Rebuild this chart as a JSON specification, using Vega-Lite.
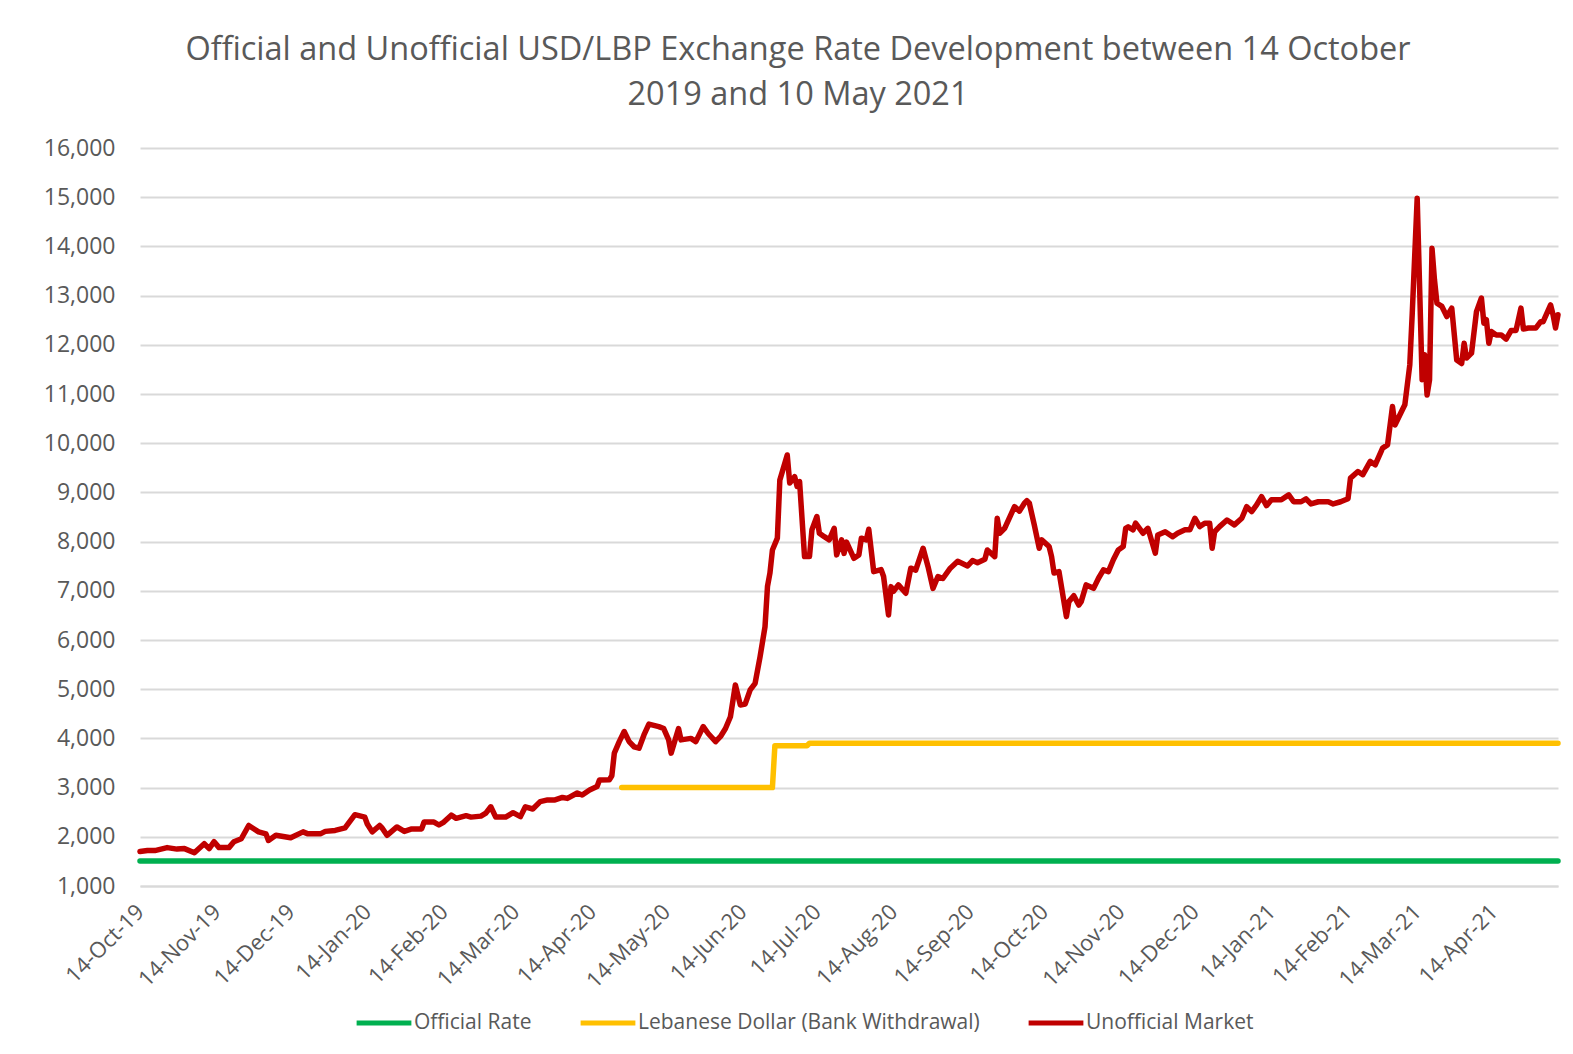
{
  "$schema": "https://vega.github.io/schema/vega-lite/v6.json",
  "width": 1418,
  "height": 738,
  "autosize": {"type": "none"},
  "padding": {"left": 140, "top": 148, "right": 15, "bottom": 168},
  "background": "white",
  "title": {
    "text": ["Official and Unofficial USD/LBP Exchange Rate Development between 14 October", "2019 and 10 May 2021"],
    "font": "Open Sans",
    "fontSize": 32.5,
    "fontWeight": "normal",
    "color": "#595959",
    "anchor": "middle",
    "dx": -51,
    "offset": 26,
    "lineHeight": 45
  },
  "config": {
    "view": {"stroke": null},
    "font": "Open Sans"
  },
  "data": {
    "values": [
      {"series": "Official Rate", "date": "2019-10-14", "value": 1507.5},
      {"series": "Official Rate", "date": "2021-05-10", "value": 1507.5},
      {"series": "Lebanese Dollar (Bank Withdrawal)", "date": "2020-04-26", "value": 3000},
      {"series": "Lebanese Dollar (Bank Withdrawal)", "date": "2020-06-26", "value": 3000},
      {"series": "Lebanese Dollar (Bank Withdrawal)", "date": "2020-06-27", "value": 3850},
      {"series": "Lebanese Dollar (Bank Withdrawal)", "date": "2020-07-10", "value": 3850},
      {"series": "Lebanese Dollar (Bank Withdrawal)", "date": "2020-07-11", "value": 3900},
      {"series": "Lebanese Dollar (Bank Withdrawal)", "date": "2021-05-10", "value": 3900},
      {"series": "Unofficial Market", "date": "2019-10-14", "value": 1700},
      {"series": "Unofficial Market", "date": "2019-10-17", "value": 1720},
      {"series": "Unofficial Market", "date": "2019-10-20", "value": 1720},
      {"series": "Unofficial Market", "date": "2019-10-25", "value": 1780},
      {"series": "Unofficial Market", "date": "2019-10-29", "value": 1750},
      {"series": "Unofficial Market", "date": "2019-11-01", "value": 1760},
      {"series": "Unofficial Market", "date": "2019-11-05", "value": 1675},
      {"series": "Unofficial Market", "date": "2019-11-09", "value": 1860},
      {"series": "Unofficial Market", "date": "2019-11-11", "value": 1760},
      {"series": "Unofficial Market", "date": "2019-11-13", "value": 1900},
      {"series": "Unofficial Market", "date": "2019-11-15", "value": 1780},
      {"series": "Unofficial Market", "date": "2019-11-19", "value": 1780},
      {"series": "Unofficial Market", "date": "2019-11-21", "value": 1900},
      {"series": "Unofficial Market", "date": "2019-11-24", "value": 1960},
      {"series": "Unofficial Market", "date": "2019-11-27", "value": 2230},
      {"series": "Unofficial Market", "date": "2019-12-01", "value": 2100},
      {"series": "Unofficial Market", "date": "2019-12-04", "value": 2060},
      {"series": "Unofficial Market", "date": "2019-12-05", "value": 1925},
      {"series": "Unofficial Market", "date": "2019-12-08", "value": 2030},
      {"series": "Unofficial Market", "date": "2019-12-14", "value": 1980},
      {"series": "Unofficial Market", "date": "2019-12-19", "value": 2100},
      {"series": "Unofficial Market", "date": "2019-12-21", "value": 2060},
      {"series": "Unofficial Market", "date": "2019-12-26", "value": 2060},
      {"series": "Unofficial Market", "date": "2019-12-28", "value": 2110},
      {"series": "Unofficial Market", "date": "2020-01-01", "value": 2130},
      {"series": "Unofficial Market", "date": "2020-01-05", "value": 2180},
      {"series": "Unofficial Market", "date": "2020-01-09", "value": 2450},
      {"series": "Unofficial Market", "date": "2020-01-13", "value": 2400},
      {"series": "Unofficial Market", "date": "2020-01-14", "value": 2260},
      {"series": "Unofficial Market", "date": "2020-01-16", "value": 2100},
      {"series": "Unofficial Market", "date": "2020-01-19", "value": 2230},
      {"series": "Unofficial Market", "date": "2020-01-20", "value": 2180},
      {"series": "Unofficial Market", "date": "2020-01-22", "value": 2030},
      {"series": "Unofficial Market", "date": "2020-01-26", "value": 2200},
      {"series": "Unofficial Market", "date": "2020-01-29", "value": 2110},
      {"series": "Unofficial Market", "date": "2020-02-01", "value": 2160},
      {"series": "Unofficial Market", "date": "2020-02-05", "value": 2160},
      {"series": "Unofficial Market", "date": "2020-02-06", "value": 2300},
      {"series": "Unofficial Market", "date": "2020-02-10", "value": 2300},
      {"series": "Unofficial Market", "date": "2020-02-12", "value": 2240},
      {"series": "Unofficial Market", "date": "2020-02-14", "value": 2300},
      {"series": "Unofficial Market", "date": "2020-02-17", "value": 2440},
      {"series": "Unofficial Market", "date": "2020-02-19", "value": 2375},
      {"series": "Unofficial Market", "date": "2020-02-23", "value": 2430},
      {"series": "Unofficial Market", "date": "2020-02-25", "value": 2400},
      {"series": "Unofficial Market", "date": "2020-02-29", "value": 2420},
      {"series": "Unofficial Market", "date": "2020-03-02", "value": 2480},
      {"series": "Unofficial Market", "date": "2020-03-04", "value": 2610},
      {"series": "Unofficial Market", "date": "2020-03-06", "value": 2400},
      {"series": "Unofficial Market", "date": "2020-03-10", "value": 2400},
      {"series": "Unofficial Market", "date": "2020-03-13", "value": 2490},
      {"series": "Unofficial Market", "date": "2020-03-16", "value": 2410},
      {"series": "Unofficial Market", "date": "2020-03-18", "value": 2610},
      {"series": "Unofficial Market", "date": "2020-03-21", "value": 2565},
      {"series": "Unofficial Market", "date": "2020-03-24", "value": 2715},
      {"series": "Unofficial Market", "date": "2020-03-27", "value": 2750},
      {"series": "Unofficial Market", "date": "2020-03-30", "value": 2750},
      {"series": "Unofficial Market", "date": "2020-04-02", "value": 2800},
      {"series": "Unofficial Market", "date": "2020-04-04", "value": 2780},
      {"series": "Unofficial Market", "date": "2020-04-08", "value": 2890},
      {"series": "Unofficial Market", "date": "2020-04-10", "value": 2850},
      {"series": "Unofficial Market", "date": "2020-04-13", "value": 2950},
      {"series": "Unofficial Market", "date": "2020-04-16", "value": 3020},
      {"series": "Unofficial Market", "date": "2020-04-17", "value": 3155},
      {"series": "Unofficial Market", "date": "2020-04-21", "value": 3160},
      {"series": "Unofficial Market", "date": "2020-04-22", "value": 3240},
      {"series": "Unofficial Market", "date": "2020-04-23", "value": 3700},
      {"series": "Unofficial Market", "date": "2020-04-25", "value": 3935},
      {"series": "Unofficial Market", "date": "2020-04-27", "value": 4140},
      {"series": "Unofficial Market", "date": "2020-04-29", "value": 3935},
      {"series": "Unofficial Market", "date": "2020-05-01", "value": 3830},
      {"series": "Unofficial Market", "date": "2020-05-03", "value": 3800},
      {"series": "Unofficial Market", "date": "2020-05-05", "value": 4070},
      {"series": "Unofficial Market", "date": "2020-05-07", "value": 4290},
      {"series": "Unofficial Market", "date": "2020-05-11", "value": 4240},
      {"series": "Unofficial Market", "date": "2020-05-13", "value": 4200},
      {"series": "Unofficial Market", "date": "2020-05-15", "value": 3970},
      {"series": "Unofficial Market", "date": "2020-05-16", "value": 3700},
      {"series": "Unofficial Market", "date": "2020-05-19", "value": 4200},
      {"series": "Unofficial Market", "date": "2020-05-20", "value": 3970},
      {"series": "Unofficial Market", "date": "2020-05-24", "value": 4000},
      {"series": "Unofficial Market", "date": "2020-05-26", "value": 3935},
      {"series": "Unofficial Market", "date": "2020-05-29", "value": 4240},
      {"series": "Unofficial Market", "date": "2020-05-31", "value": 4100},
      {"series": "Unofficial Market", "date": "2020-06-03", "value": 3935},
      {"series": "Unofficial Market", "date": "2020-06-05", "value": 4040},
      {"series": "Unofficial Market", "date": "2020-06-07", "value": 4200},
      {"series": "Unofficial Market", "date": "2020-06-09", "value": 4440},
      {"series": "Unofficial Market", "date": "2020-06-11", "value": 5085},
      {"series": "Unofficial Market", "date": "2020-06-13", "value": 4680},
      {"series": "Unofficial Market", "date": "2020-06-15", "value": 4700},
      {"series": "Unofficial Market", "date": "2020-06-17", "value": 4985},
      {"series": "Unofficial Market", "date": "2020-06-19", "value": 5120},
      {"series": "Unofficial Market", "date": "2020-06-21", "value": 5660},
      {"series": "Unofficial Market", "date": "2020-06-23", "value": 6270},
      {"series": "Unofficial Market", "date": "2020-06-24", "value": 7085},
      {"series": "Unofficial Market", "date": "2020-06-25", "value": 7360},
      {"series": "Unofficial Market", "date": "2020-06-26", "value": 7830},
      {"series": "Unofficial Market", "date": "2020-06-28", "value": 8070},
      {"series": "Unofficial Market", "date": "2020-06-29", "value": 9250},
      {"series": "Unofficial Market", "date": "2020-07-02", "value": 9760},
      {"series": "Unofficial Market", "date": "2020-07-03", "value": 9190},
      {"series": "Unofficial Market", "date": "2020-07-05", "value": 9320},
      {"series": "Unofficial Market", "date": "2020-07-06", "value": 9120},
      {"series": "Unofficial Market", "date": "2020-07-07", "value": 9220},
      {"series": "Unofficial Market", "date": "2020-07-09", "value": 7695},
      {"series": "Unofficial Market", "date": "2020-07-11", "value": 7695},
      {"series": "Unofficial Market", "date": "2020-07-12", "value": 8240},
      {"series": "Unofficial Market", "date": "2020-07-14", "value": 8510},
      {"series": "Unofficial Market", "date": "2020-07-15", "value": 8170},
      {"series": "Unofficial Market", "date": "2020-07-17", "value": 8100},
      {"series": "Unofficial Market", "date": "2020-07-19", "value": 8035},
      {"series": "Unofficial Market", "date": "2020-07-21", "value": 8270},
      {"series": "Unofficial Market", "date": "2020-07-22", "value": 7730},
      {"series": "Unofficial Market", "date": "2020-07-24", "value": 8035},
      {"series": "Unofficial Market", "date": "2020-07-25", "value": 7760},
      {"series": "Unofficial Market", "date": "2020-07-26", "value": 7990},
      {"series": "Unofficial Market", "date": "2020-07-29", "value": 7660},
      {"series": "Unofficial Market", "date": "2020-07-31", "value": 7730},
      {"series": "Unofficial Market", "date": "2020-08-01", "value": 8070},
      {"series": "Unofficial Market", "date": "2020-08-03", "value": 8035},
      {"series": "Unofficial Market", "date": "2020-08-04", "value": 8250},
      {"series": "Unofficial Market", "date": "2020-08-06", "value": 7390},
      {"series": "Unofficial Market", "date": "2020-08-09", "value": 7430},
      {"series": "Unofficial Market", "date": "2020-08-10", "value": 7290},
      {"series": "Unofficial Market", "date": "2020-08-12", "value": 6510},
      {"series": "Unofficial Market", "date": "2020-08-13", "value": 7085},
      {"series": "Unofficial Market", "date": "2020-08-14", "value": 6990},
      {"series": "Unofficial Market", "date": "2020-08-16", "value": 7120},
      {"series": "Unofficial Market", "date": "2020-08-19", "value": 6950},
      {"series": "Unofficial Market", "date": "2020-08-21", "value": 7460},
      {"series": "Unofficial Market", "date": "2020-08-23", "value": 7420},
      {"series": "Unofficial Market", "date": "2020-08-26", "value": 7865},
      {"series": "Unofficial Market", "date": "2020-08-28", "value": 7490},
      {"series": "Unofficial Market", "date": "2020-08-30", "value": 7050},
      {"series": "Unofficial Market", "date": "2020-09-01", "value": 7290},
      {"series": "Unofficial Market", "date": "2020-09-03", "value": 7250},
      {"series": "Unofficial Market", "date": "2020-09-06", "value": 7460},
      {"series": "Unofficial Market", "date": "2020-09-09", "value": 7600},
      {"series": "Unofficial Market", "date": "2020-09-13", "value": 7505},
      {"series": "Unofficial Market", "date": "2020-09-15", "value": 7615},
      {"series": "Unofficial Market", "date": "2020-09-17", "value": 7570},
      {"series": "Unofficial Market", "date": "2020-09-20", "value": 7640},
      {"series": "Unofficial Market", "date": "2020-09-21", "value": 7830},
      {"series": "Unofficial Market", "date": "2020-09-24", "value": 7695},
      {"series": "Unofficial Market", "date": "2020-09-25", "value": 8475},
      {"series": "Unofficial Market", "date": "2020-09-26", "value": 8170},
      {"series": "Unofficial Market", "date": "2020-09-28", "value": 8270},
      {"series": "Unofficial Market", "date": "2020-10-02", "value": 8710},
      {"series": "Unofficial Market", "date": "2020-10-04", "value": 8620},
      {"series": "Unofficial Market", "date": "2020-10-06", "value": 8780},
      {"series": "Unofficial Market", "date": "2020-10-07", "value": 8830},
      {"series": "Unofficial Market", "date": "2020-10-08", "value": 8780},
      {"series": "Unofficial Market", "date": "2020-10-10", "value": 8340},
      {"series": "Unofficial Market", "date": "2020-10-12", "value": 7865},
      {"series": "Unofficial Market", "date": "2020-10-13", "value": 8035},
      {"series": "Unofficial Market", "date": "2020-10-16", "value": 7900},
      {"series": "Unofficial Market", "date": "2020-10-17", "value": 7695},
      {"series": "Unofficial Market", "date": "2020-10-18", "value": 7360},
      {"series": "Unofficial Market", "date": "2020-10-20", "value": 7390},
      {"series": "Unofficial Market", "date": "2020-10-21", "value": 7085},
      {"series": "Unofficial Market", "date": "2020-10-23", "value": 6475},
      {"series": "Unofficial Market", "date": "2020-10-24", "value": 6780},
      {"series": "Unofficial Market", "date": "2020-10-26", "value": 6900},
      {"series": "Unofficial Market", "date": "2020-10-28", "value": 6710},
      {"series": "Unofficial Market", "date": "2020-10-29", "value": 6780},
      {"series": "Unofficial Market", "date": "2020-10-31", "value": 7120},
      {"series": "Unofficial Market", "date": "2020-11-03", "value": 7050},
      {"series": "Unofficial Market", "date": "2020-11-05", "value": 7255},
      {"series": "Unofficial Market", "date": "2020-11-07", "value": 7425},
      {"series": "Unofficial Market", "date": "2020-11-09", "value": 7390},
      {"series": "Unofficial Market", "date": "2020-11-11", "value": 7630},
      {"series": "Unofficial Market", "date": "2020-11-13", "value": 7830},
      {"series": "Unofficial Market", "date": "2020-11-15", "value": 7900},
      {"series": "Unofficial Market", "date": "2020-11-16", "value": 8270},
      {"series": "Unofficial Market", "date": "2020-11-17", "value": 8300},
      {"series": "Unofficial Market", "date": "2020-11-19", "value": 8240},
      {"series": "Unofficial Market", "date": "2020-11-20", "value": 8375},
      {"series": "Unofficial Market", "date": "2020-11-23", "value": 8170},
      {"series": "Unofficial Market", "date": "2020-11-25", "value": 8270},
      {"series": "Unofficial Market", "date": "2020-11-28", "value": 7765},
      {"series": "Unofficial Market", "date": "2020-11-29", "value": 8135},
      {"series": "Unofficial Market", "date": "2020-12-02", "value": 8200},
      {"series": "Unofficial Market", "date": "2020-12-05", "value": 8100},
      {"series": "Unofficial Market", "date": "2020-12-07", "value": 8170},
      {"series": "Unofficial Market", "date": "2020-12-10", "value": 8240},
      {"series": "Unofficial Market", "date": "2020-12-12", "value": 8240},
      {"series": "Unofficial Market", "date": "2020-12-14", "value": 8475},
      {"series": "Unofficial Market", "date": "2020-12-16", "value": 8305},
      {"series": "Unofficial Market", "date": "2020-12-18", "value": 8375},
      {"series": "Unofficial Market", "date": "2020-12-20", "value": 8375},
      {"series": "Unofficial Market", "date": "2020-12-21", "value": 7865},
      {"series": "Unofficial Market", "date": "2020-12-22", "value": 8200},
      {"series": "Unofficial Market", "date": "2020-12-24", "value": 8305},
      {"series": "Unofficial Market", "date": "2020-12-27", "value": 8440},
      {"series": "Unofficial Market", "date": "2020-12-30", "value": 8340},
      {"series": "Unofficial Market", "date": "2021-01-02", "value": 8475},
      {"series": "Unofficial Market", "date": "2021-01-04", "value": 8710},
      {"series": "Unofficial Market", "date": "2021-01-06", "value": 8610},
      {"series": "Unofficial Market", "date": "2021-01-08", "value": 8745},
      {"series": "Unofficial Market", "date": "2021-01-10", "value": 8915},
      {"series": "Unofficial Market", "date": "2021-01-12", "value": 8730},
      {"series": "Unofficial Market", "date": "2021-01-14", "value": 8850},
      {"series": "Unofficial Market", "date": "2021-01-18", "value": 8850},
      {"series": "Unofficial Market", "date": "2021-01-21", "value": 8950},
      {"series": "Unofficial Market", "date": "2021-01-23", "value": 8810},
      {"series": "Unofficial Market", "date": "2021-01-26", "value": 8810},
      {"series": "Unofficial Market", "date": "2021-01-28", "value": 8870},
      {"series": "Unofficial Market", "date": "2021-01-30", "value": 8765},
      {"series": "Unofficial Market", "date": "2021-02-02", "value": 8810},
      {"series": "Unofficial Market", "date": "2021-02-06", "value": 8810},
      {"series": "Unofficial Market", "date": "2021-02-08", "value": 8765},
      {"series": "Unofficial Market", "date": "2021-02-11", "value": 8810},
      {"series": "Unofficial Market", "date": "2021-02-14", "value": 8870},
      {"series": "Unofficial Market", "date": "2021-02-15", "value": 9290},
      {"series": "Unofficial Market", "date": "2021-02-18", "value": 9425},
      {"series": "Unofficial Market", "date": "2021-02-20", "value": 9360},
      {"series": "Unofficial Market", "date": "2021-02-23", "value": 9630},
      {"series": "Unofficial Market", "date": "2021-02-25", "value": 9560},
      {"series": "Unofficial Market", "date": "2021-02-28", "value": 9900},
      {"series": "Unofficial Market", "date": "2021-03-02", "value": 9965},
      {"series": "Unofficial Market", "date": "2021-03-04", "value": 10745},
      {"series": "Unofficial Market", "date": "2021-03-05", "value": 10370},
      {"series": "Unofficial Market", "date": "2021-03-08", "value": 10680},
      {"series": "Unofficial Market", "date": "2021-03-09", "value": 10780},
      {"series": "Unofficial Market", "date": "2021-03-11", "value": 11590},
      {"series": "Unofficial Market", "date": "2021-03-12", "value": 12640},
      {"series": "Unofficial Market", "date": "2021-03-14", "value": 14980},
      {"series": "Unofficial Market", "date": "2021-03-16", "value": 11290},
      {"series": "Unofficial Market", "date": "2021-03-17", "value": 11800},
      {"series": "Unofficial Market", "date": "2021-03-18", "value": 10980},
      {"series": "Unofficial Market", "date": "2021-03-19", "value": 11290},
      {"series": "Unofficial Market", "date": "2021-03-20", "value": 13960},
      {"series": "Unofficial Market", "date": "2021-03-21", "value": 13320},
      {"series": "Unofficial Market", "date": "2021-03-22", "value": 12845},
      {"series": "Unofficial Market", "date": "2021-03-24", "value": 12780},
      {"series": "Unofficial Market", "date": "2021-03-26", "value": 12575},
      {"series": "Unofficial Market", "date": "2021-03-28", "value": 12745},
      {"series": "Unofficial Market", "date": "2021-03-30", "value": 11690},
      {"series": "Unofficial Market", "date": "2021-04-01", "value": 11620},
      {"series": "Unofficial Market", "date": "2021-04-02", "value": 12030},
      {"series": "Unofficial Market", "date": "2021-04-03", "value": 11730},
      {"series": "Unofficial Market", "date": "2021-04-05", "value": 11830},
      {"series": "Unofficial Market", "date": "2021-04-07", "value": 12675},
      {"series": "Unofficial Market", "date": "2021-04-09", "value": 12950},
      {"series": "Unofficial Market", "date": "2021-04-10", "value": 12440},
      {"series": "Unofficial Market", "date": "2021-04-11", "value": 12510},
      {"series": "Unofficial Market", "date": "2021-04-12", "value": 12030},
      {"series": "Unofficial Market", "date": "2021-04-13", "value": 12270},
      {"series": "Unofficial Market", "date": "2021-04-15", "value": 12200},
      {"series": "Unofficial Market", "date": "2021-04-17", "value": 12200},
      {"series": "Unofficial Market", "date": "2021-04-19", "value": 12115},
      {"series": "Unofficial Market", "date": "2021-04-21", "value": 12290},
      {"series": "Unofficial Market", "date": "2021-04-23", "value": 12290},
      {"series": "Unofficial Market", "date": "2021-04-25", "value": 12745},
      {"series": "Unofficial Market", "date": "2021-04-26", "value": 12320},
      {"series": "Unofficial Market", "date": "2021-04-28", "value": 12340},
      {"series": "Unofficial Market", "date": "2021-05-01", "value": 12340},
      {"series": "Unofficial Market", "date": "2021-05-03", "value": 12470},
      {"series": "Unofficial Market", "date": "2021-05-04", "value": 12470},
      {"series": "Unofficial Market", "date": "2021-05-07", "value": 12810},
      {"series": "Unofficial Market", "date": "2021-05-08", "value": 12610},
      {"series": "Unofficial Market", "date": "2021-05-09", "value": 12340},
      {"series": "Unofficial Market", "date": "2021-05-10", "value": 12610}
    ]
  },
  "mark": {"type": "line", "strokeWidth": 5.5, "strokeJoin": "round", "strokeCap": "round"},
  "encoding": {
    "x": {
      "field": "date",
      "type": "temporal",
      "scale": {
        "type": "utc",
        "domain": [
          {"year": 2019, "month": 10, "date": 14, "utc": true},
          {"year": 2021, "month": 5, "date": 10, "utc": true}
        ]
      },
      "axis": {
        "title": null,
        "format": "%d-%b-%y",
        "values": [
          {"year": 2019, "month": 10, "date": 14, "utc": true},
          {"year": 2019, "month": 11, "date": 14, "utc": true},
          {"year": 2019, "month": 12, "date": 14, "utc": true},
          {"year": 2020, "month": 1, "date": 14, "utc": true},
          {"year": 2020, "month": 2, "date": 14, "utc": true},
          {"year": 2020, "month": 3, "date": 14, "utc": true},
          {"year": 2020, "month": 4, "date": 14, "utc": true},
          {"year": 2020, "month": 5, "date": 14, "utc": true},
          {"year": 2020, "month": 6, "date": 14, "utc": true},
          {"year": 2020, "month": 7, "date": 14, "utc": true},
          {"year": 2020, "month": 8, "date": 14, "utc": true},
          {"year": 2020, "month": 9, "date": 14, "utc": true},
          {"year": 2020, "month": 10, "date": 14, "utc": true},
          {"year": 2020, "month": 11, "date": 14, "utc": true},
          {"year": 2020, "month": 12, "date": 14, "utc": true},
          {"year": 2021, "month": 1, "date": 14, "utc": true},
          {"year": 2021, "month": 2, "date": 14, "utc": true},
          {"year": 2021, "month": 3, "date": 14, "utc": true},
          {"year": 2021, "month": 4, "date": 14, "utc": true}
        ],
        "labelAngle": -45,
        "labelAlign": "right",
        "labelBaseline": "middle",
        "labelFontSize": 22,
        "labelColor": "#595959",
        "labelPadding": 22,
        "labelOverlap": false,
        "labelFlush": false,
        "ticks": false,
        "grid": false,
        "domain": true,
        "domainColor": "#D9D9D9",
        "domainWidth": 2
      }
    },
    "y": {
      "field": "value",
      "type": "quantitative",
      "scale": {"domain": [1000, 16000], "nice": false, "zero": false},
      "axis": {
        "title": null,
        "format": ",.0f",
        "values": [1000, 2000, 3000, 4000, 5000, 6000, 7000, 8000, 9000, 10000, 11000, 12000, 13000, 14000, 15000, 16000],
        "labelFontSize": 23,
        "labelColor": "#595959",
        "labelPadding": 25,
        "ticks": false,
        "domain": false,
        "grid": true,
        "gridColor": "#D9D9D9",
        "gridWidth": 2
      }
    },
    "color": {
      "field": "series",
      "type": "nominal",
      "scale": {
        "domain": ["Official Rate", "Lebanese Dollar (Bank Withdrawal)", "Unofficial Market"],
        "range": ["#00B050", "#FFC000", "#C00000"]
      },
      "legend": {
        "title": null,
        "orient": "none",
        "direction": "horizontal",
        "legendX": 214,
        "legendY": 845,
        "symbolType": "stroke",
        "symbolSize": 3000,
        "symbolStrokeWidth": 5,
        "labelFontSize": 21,
        "labelLimit": 600,
        "labelColor": "#595959",
        "labelOffset": 0,
        "columnPadding": 38
      }
    }
  }
}
